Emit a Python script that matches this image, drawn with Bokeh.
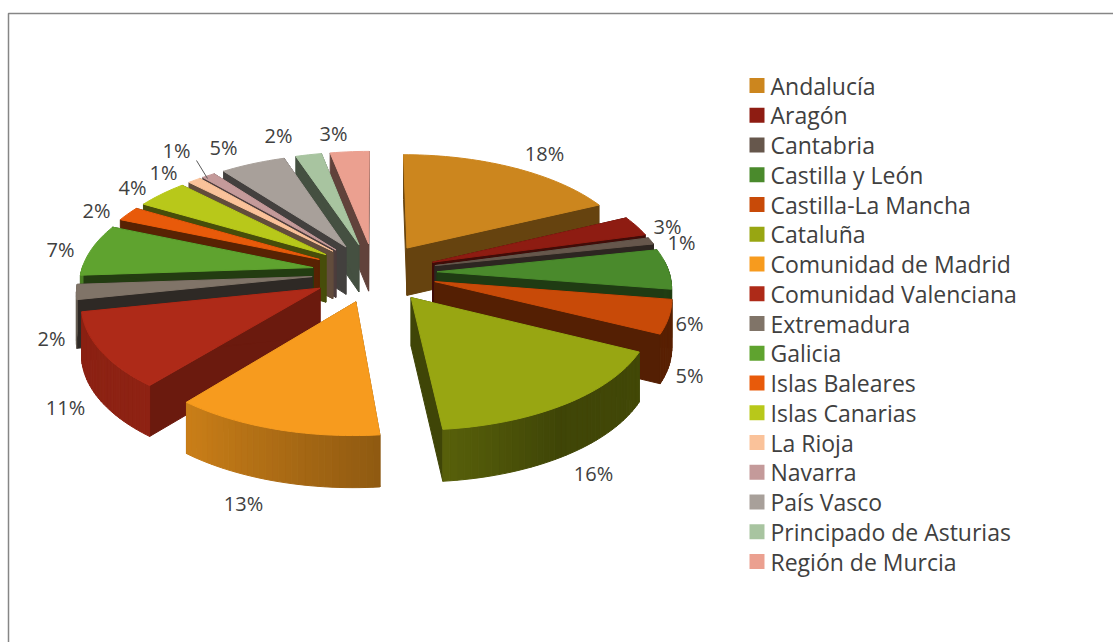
import numpy as np
from bokeh.core.properties import value
from bokeh.embed import file_html
from bokeh.models import Range1d
from bokeh.plotting import figure
from bokeh.resources import INLINE

# Share of each region, in percent
regions = ["Andalucía", "Aragón", "Cantabria", "Castilla y León", "Castilla-La Mancha",
           "Cataluña", "Comunidad de Madrid", "Comunidad Valenciana", "Extremadura",
           "Galicia", "Islas Baleares", "Islas Canarias", "La Rioja", "Navarra",
           "País Vasco", "Principado de Asturias", "Región de Murcia"]
shares = [18, 3, 1, 6, 5, 16, 13, 11, 2, 7, 2, 4, 1, 1, 5, 2, 3]
colors = ["#CC861E", "#8E1C12", "#66574C", "#4A8A2C", "#C84A08", "#98A612", "#F79B1E",
          "#AE2A18", "#807468", "#5FA32F", "#E85A0A", "#B8C81A", "#FAC29A", "#C49A9A",
          "#A8A09A", "#A8C4A0", "#EBA090"]

# Hand-placed data label centres, in page pixels
label_xy = [(544, 153), (667, 226), (681, 242), (689, 323), (689, 375), (593, 473),
            (243, 503), (65, 407), (51, 338), (60, 249), (96, 210), (132, 187),
            (163, 172), (176, 150), (223, 147), (278, 135), (333, 133)]

W, H = 1113, 642
CX, CY = 374, 272       # pie centre on the page
RX, RY = 232, 110       # radii of the tilted disc
PERSP = 0.12            # how much nearer points grow
EXPLODE = 0.27          # slice offset as a fraction of the radius
THICK = 48              # disc thickness


def view_angle(deg):
    """The oblique view shears the disc: rim angles are eased towards the front right."""
    return deg + np.interp(deg, [0, 65, 119, 176, 223, 263, 290, 330, 360],
                           [0, -0.5, -2.5, -2, -4, -4.5, -2.5, -1, 0])


def project(x, y, drop=0.0):
    """Map disc coordinates (y grows towards the viewer) to the page."""
    s = 1 / (1 - PERSP * np.asarray(y))
    return CX + RX * np.asarray(x) * s, CY + RY * np.asarray(y) * s + drop * s ** 0.5


def shade(hex_color, f):
    r, g, b = (int(hex_color[i:i + 2], 16) for i in (1, 3, 5))
    return "#%02x%02x%02x" % (int(r * f), int(g * f), int(b * f))


def wall_light(deg):
    """Outer wall brightness: the light comes from the front left."""
    return float(np.interp(deg % 360, [0, 100, 150, 176, 223, 263, 360],
                           [0.5, 0.45, 0.42, 0.58, 0.82, 0.8, 0.7]))


def side_light(deg):
    """Brightness of the cut faces of a slice centred on the given angle."""
    return float(np.interp(deg, [0, 100, 150, 243, 265, 360], [0.54, 0.42, 0.42, 0.62, 0.36, 0.42]))


p = figure(width=W, height=H, output_backend="svg", toolbar_location=None,
           x_range=Range1d(0, W), y_range=Range1d(H, 0), min_border=0,
           x_axis_type=None, y_axis_type=None, outline_line_color=None,
           background_fill_color="white", border_fill_color="white")
p.xgrid.visible = False
p.ygrid.visible = False

# Chart frame: left and top edges
p.line([8, 8, W], [H, 13, 13], line_color="#868686", line_width=1.5)

edges = np.cumsum([0] + shares) * 3.6
slices = []
for i, (a0, a1) in enumerate(zip(edges[:-1], edges[1:])):
    mid = np.radians(view_angle((a0 + a1) / 2))
    slices.append((-np.cos(mid), i, a0, a1, EXPLODE * np.sin(mid), -EXPLODE * np.cos(mid)))

xs, ys, fills = [], [], []


def add(px, py, fill):
    xs.append(list(px))
    ys.append(list(py))
    fills.append(fill)


# Painter's order: slices further from the viewer first
for _, i, a0, a1, ox, oy in sorted(slices):
    steps = max(3, int((a1 - a0) / 1.5))
    deg = np.linspace(a0, a1, steps + 1)
    rad = np.radians(view_angle(deg))
    rim_x, rim_y = np.sin(rad) + ox, -np.cos(rad) + oy
    tx, ty = project(rim_x, rim_y)
    bx, by = project(rim_x, rim_y, THICK)
    ax, ay = project(ox, oy)
    abx, aby = project(ox, oy, THICK)

    side = shade(colors[i], side_light((a0 + a1) / 2))
    add([ax, tx[0], bx[0], abx], [ay, ty[0], by[0], aby], side)
    add([ax, tx[-1], bx[-1], abx], [ay, ty[-1], by[-1], aby], side)
    for k in range(steps):
        centre = (deg[k] + deg[k + 1]) / 2
        if 85 < centre < 275:    # only the part of the rim that faces the viewer
            add([tx[k], tx[k + 1], bx[k + 1], bx[k]], [ty[k], ty[k + 1], by[k + 1], by[k]],
                shade(colors[i], wall_light(centre)))
    add([ax, *tx], [ay, *ty], colors[i])

p.patches(xs, ys, fill_color=fills, line_color=fills, line_width=1)

# Leader line of the Navarra label
p.line([196, 207], [160, 178], line_color="#5a5a5a", line_width=1)

label_x, label_y = zip(*label_xy)
p.text(label_x, label_y, text=[f"{v}%" for v in shares], text_font=value("Open Sans"),
       text_font_size="20px", text_color="#404040", text_align="center", text_baseline="middle")

# Legend column
rows = 85 + 29.75 * np.arange(len(regions))
p.rect(np.full(len(regions), 756.5), rows, 15, 15, fill_color=colors, line_color=None)
p.text(np.full(len(regions), 770), rows, text=regions, text_font=value("Open Sans"),
       text_font_size="23px", text_color="#404040", text_align="left", text_baseline="middle")

open("out.html", "w").write(file_html(p, INLINE))
